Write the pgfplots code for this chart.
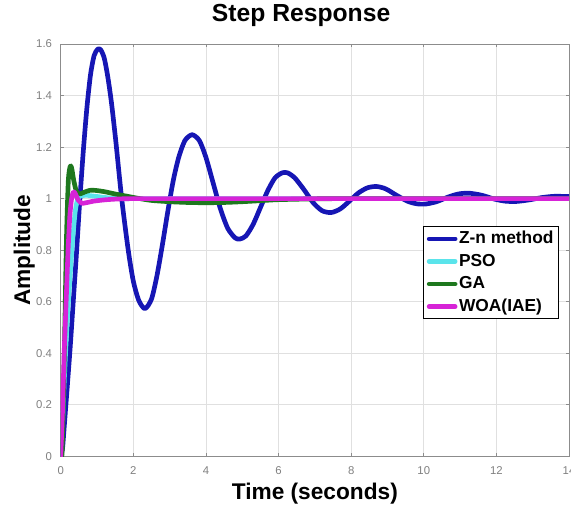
\documentclass[border=0pt]{standalone}
\usepackage{fontspec}
\setmainfont{Liberation Sans}
\usepackage{pgfplots}
\pgfplotsset{compat=1.18}
\definecolor{znblue}{RGB}{22,22,180}
\definecolor{psocyan}{RGB}{90,228,235}
\definecolor{gagreen}{RGB}{30,120,30}
\definecolor{woamag}{RGB}{215,35,215}
\begin{document}
\begin{tikzpicture}
\begin{axis}[
  width=381pt, height=309pt, scale only axis,
  xmin=0, xmax=14, ymin=0, ymax=1.6,
  xtick={0,2,4,6,8,10,12,14},
  ytick={0,0.2,0.4,0.6,0.8,1,1.2,1.4,1.6},
  yticklabels={0,0.2,0.4,0.6,0.8,1,1.2,1.4,1.6},
  xticklabels={0,2,4,6,8,10,12,14},
  grid=major,
  major grid style={black!12, line width=0.5pt},
  axis line style={black!45, line width=0.6pt},
  tick style={black!45, line width=0.6pt},
  tick align=inside, major tick length=2.5pt,
  /pgf/number format/assume math mode=true,
  ticklabel style={font=\fontsize{8.5}{10}\selectfont, text=black!50},
  xticklabel style={anchor=base, yshift=-14pt},
  yticklabel style={xshift=-3pt},
  title={Step Response},
  title style={at={(axis description cs:0.473,1)}, anchor=base, yshift=11pt, font=\bfseries\fontsize{18.5}{21}\selectfont},
  xlabel={Time (seconds)},
  xlabel style={at={(axis description cs:0.5,0)}, anchor=base, yshift=-32.5pt, font=\bfseries\fontsize{17}{20}\selectfont},
  ylabel={Amplitude},
  ylabel style={at={(axis description cs:-0.0604,0.5)}, anchor=base, font=\bfseries\fontsize{17}{20}\selectfont},
  legend style={at={(axis description cs:0.98,0.558)}, anchor=north east,
    font=\bfseries\fontsize{13}{15}\selectfont, draw=black, line width=0.6pt,
    inner xsep=2.5pt, inner ysep=2pt, row sep=2.5pt,
    nodes={inner sep=1.2pt, text height=9.5pt, text depth=2.5pt}},
  legend cell align=left,
  legend image code/.code={\draw[#1] (0pt,0pt) -- (19.5pt,0pt);},
  every axis plot/.append style={line width=3.5pt, line join=round, line cap=round},
]
\addplot[znblue, smooth, tension=0.45] coordinates {
(0,0) (0.05,0.03) (0.1,0.12) (0.17,0.25) (0.26,0.42) (0.35,0.61) (0.44,0.80)
(0.52,0.98) (0.62,1.18) (0.72,1.35) (0.82,1.48) (0.92,1.555) (1.02,1.58) (1.1,1.578)
(1.2,1.545) (1.3,1.47) (1.4,1.37) (1.52,1.22) (1.68,1.0) (1.86,0.80) (2.0,0.68)
(2.15,0.605) (2.32,0.573) (2.5,0.61) (2.65,0.70) (2.8,0.82) (2.95,0.95) (3.1,1.07)
(3.25,1.16) (3.42,1.225) (3.62,1.248) (3.82,1.225) (4.0,1.16) (4.2,1.06) (4.4,0.96)
(4.6,0.885) (4.8,0.848) (4.93,0.843) (5.1,0.855) (5.3,0.90) (5.5,0.965) (5.7,1.03)
(5.9,1.08) (6.1,1.10) (6.25,1.10) (6.45,1.08) (6.7,1.035) (6.95,0.985) (7.2,0.953)
(7.45,0.946) (7.7,0.96) (7.95,0.99) (8.2,1.022) (8.45,1.042) (8.7,1.047) (8.95,1.038)
(9.25,1.013) (9.55,0.99) (9.8,0.98) (10.05,0.979) (10.35,0.988) (10.65,1.005)
(10.95,1.018) (11.25,1.021) (11.6,1.013) (11.95,0.998) (12.25,0.99) (12.55,0.989)
(12.9,0.995) (13.25,1.004) (13.6,1.009) (14,1.008)
};
\addlegendentry{Z-n method}
\addplot[psocyan, smooth, tension=0.4] coordinates {
(0,0) (0.05,0.12) (0.1,0.3) (0.17,0.5) (0.25,0.68) (0.33,0.84) (0.4,0.95) (0.47,1.0)
(0.55,1.01) (0.7,1.013) (0.9,1.01) (1.2,1.005) (1.6,1.0) (3,1.0) (14,1.0)
};
\addlegendentry{PSO}
\addplot[gagreen, smooth, tension=0.4] coordinates {
(0,0) (0.04,0.02) (0.1,0.4) (0.16,0.85) (0.21,1.07) (0.26,1.125) (0.3,1.12) (0.36,1.07)
(0.43,1.03) (0.52,1.018) (0.65,1.025) (0.8,1.032) (0.95,1.032) (1.2,1.027) (1.5,1.018)
(1.8,1.01) (2.1,1.002) (2.5,0.993) (3,0.988) (3.5,0.985) (4,0.984) (4.5,0.985) (5,0.988)
(5.5,0.992) (6,0.996) (7,0.999) (8,1.0) (14,1.0)
};
\addlegendentry{GA}
\addplot[woamag, smooth, tension=0.4] coordinates {
(0,0) (0.03,0.1) (0.055,0.2) (0.1,0.42) (0.15,0.6) (0.2,0.79) (0.25,0.93) (0.3,1.0)
(0.35,1.026) (0.4,1.02) (0.48,0.995) (0.58,0.982) (0.7,0.984) (0.9,0.99) (1.2,0.995)
(1.5,0.998) (2,1.0) (4,1.0) (14,1.0)
};
\addlegendentry{WOA(IAE)}
\coordinate (SW) at (rel axis cs:0,0);
\coordinate (NE) at (rel axis cs:1,1);
\end{axis}
\pgfresetboundingbox
\path ([xshift=-45.5pt,yshift=-38.25pt]SW) rectangle ([xshift=1.5pt,yshift=33pt]NE);
\end{tikzpicture}
\end{document}
